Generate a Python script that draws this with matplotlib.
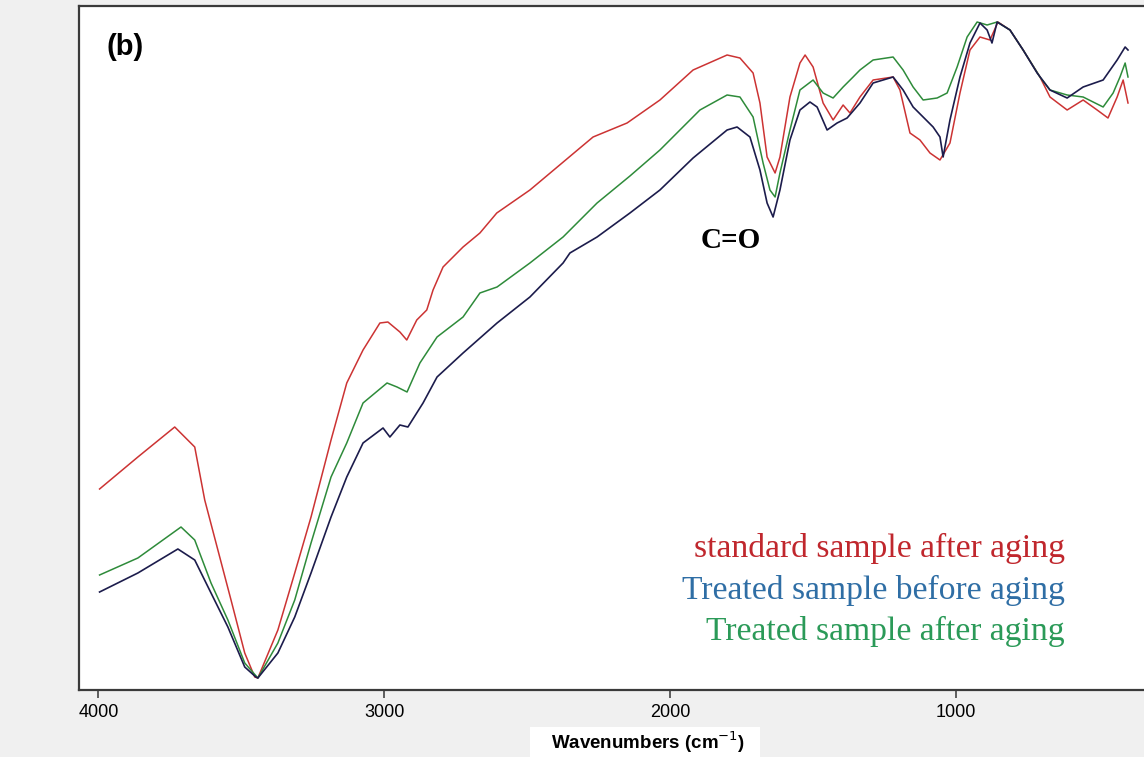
import matplotlib
matplotlib.use('Agg')
import matplotlib.pyplot as plt
from matplotlib.patches import Rectangle

# FTIR spectra (wavenumber in cm-1, transmittance in a.u.)
wn_std = [3996, 3862, 3733, 3663, 3628, 3582, 3536, 3488, 3453, 3442, 3372, 3313, 3256, 3186,
          3131, 3074, 3015, 2987, 2945, 2921, 2886, 2851, 2829, 2794, 2724, 2665, 2606, 2490,
          2315, 2269, 2150, 2035, 1919, 1800, 1755, 1709, 1685, 1660, 1632, 1615, 1580, 1545,
          1527, 1499, 1464, 1429, 1394, 1370, 1335, 1289, 1219, 1195, 1160, 1125, 1090, 1055,
          1020, 985, 950, 915, 880, 852, 810, 764, 705, 670, 610, 554, 505, 467, 435, 414, 397]
t_std = [20.1, 23.3, 26.3, 24.3, 19.0, 14.0, 9.0, 3.7, 1.3, 1.2, 6.0, 11.7, 17.3, 25.0,
         30.7, 34.0, 36.7, 36.8, 35.8, 35.0, 37.0, 38.0, 40.0, 42.3, 44.3, 45.7, 47.7, 50.0,
         54.2, 55.3, 56.7, 59.0, 62.0, 63.5, 63.2, 61.7, 58.7, 53.3, 51.7, 53.3, 59.3, 62.7,
         63.5, 62.3, 58.7, 57.0, 58.5, 57.7, 59.3, 61.0, 61.3, 60.0, 55.7, 55.0, 53.7, 53.0,
         54.7, 59.7, 64.0, 65.3, 65.0, 66.8, 66.0, 64.0, 61.3, 59.3, 58.0, 59.0, 58.0, 57.2,
         59.3, 61.0, 58.7]

wn_before = [3996, 3862, 3722, 3663, 3606, 3547, 3488, 3449, 3442, 3372, 3313, 3256, 3186, 3131,
             3074, 3004, 2980, 2945, 2917, 2864, 2815, 2724, 2605, 2490, 2374, 2350, 2255, 2140,
             2035, 1919, 1800, 1765, 1720, 1685, 1660, 1639, 1615, 1580, 1545, 1510, 1485, 1450,
             1415, 1380, 1335, 1289, 1219, 1184, 1149, 1114, 1079, 1055, 1044, 1020, 985, 950,
             915, 890, 873, 855, 810, 764, 715, 670, 610, 554, 484, 435, 407, 397]
t_before = [9.8, 11.7, 14.1, 13.0, 9.7, 6.3, 2.3, 1.3, 1.2, 3.7, 7.3, 11.7, 17.3, 21.3,
            24.7, 26.2, 25.3, 26.5, 26.3, 28.7, 31.3, 33.7, 36.7, 39.3, 42.7, 43.7, 45.3, 47.7,
            50.0, 53.2, 56.0, 56.3, 55.3, 52.0, 48.7, 47.3, 50.0, 55.0, 58.0, 58.8, 58.3, 56.0,
            56.7, 57.2, 58.7, 60.7, 61.3, 60.0, 58.3, 57.3, 56.3, 55.3, 53.3, 57.0, 61.3, 64.7,
            66.7, 66.0, 64.7, 66.8, 66.0, 64.0, 61.7, 60.0, 59.2, 60.3, 61.0, 63.0, 64.3, 64.0]

wn_after = [3996, 3862, 3711, 3663, 3606, 3547, 3488, 3442, 3372, 3313, 3256, 3186, 3131, 3074,
            2990, 2955, 2920, 2875, 2815, 2724, 2665, 2605, 2490, 2374, 2255, 2140, 2035, 1895,
            1800, 1755, 1709, 1674, 1650, 1632, 1615, 1580, 1545, 1499, 1464, 1429, 1394, 1359,
            1335, 1289, 1219, 1184, 1149, 1114, 1065, 1030, 995, 960, 925, 890, 855, 810, 764,
            705, 670, 610, 554, 484, 449, 425, 407, 397]
t_after = [11.5, 13.2, 16.3, 15.0, 10.7, 7.0, 2.7, 1.2, 4.7, 9.0, 14.7, 21.3, 24.7, 28.7,
           30.7, 30.3, 29.8, 32.7, 35.3, 37.3, 39.7, 40.3, 42.7, 45.3, 48.7, 51.4, 54.0, 58.0,
           59.5, 59.3, 57.3, 52.7, 50.0, 49.3, 51.7, 56.0, 60.0, 61.0, 59.7, 59.2, 60.3, 61.3,
           62.0, 63.0, 63.3, 62.0, 60.3, 59.0, 59.2, 59.7, 62.3, 65.3, 66.8, 66.5, 66.8, 66.0, 64.0,
           61.3, 60.0, 59.5, 59.3, 58.3, 59.7, 61.3, 62.7, 61.3]

labels = ['standard sample after aging', 'Treated sample before aging', 'Treated sample after aging']
line_colors = ['#cc3333', '#1c1c4c', '#2e8b3a']
text_colors = ['#c0272d', '#2f6ea5', '#2b9a58']
xticks = [4000, 3000, 2000, 1000]

fig = plt.figure(figsize=(11.44, 7.57), dpi=100, facecolor='#f0f0f0')
ax = fig.add_axes([79 / 1144, 1 - 690 / 757, 1 - 79 / 1144, (690 - 6) / 757])
ax.set_facecolor('white')

ax.plot(wn_std, t_std, color=line_colors[0], lw=1.1)
ax.plot(wn_after, t_after, color=line_colors[2], lw=1.1)
ax.plot(wn_before, t_before, color=line_colors[1], lw=1.2)

ax.set_xlim(4068, 341)
ax.set_ylim(0, 68.4)
ax.set_yticks([])
ax.set_xticks(xticks)
ax.set_xticklabels([str(t) for t in xticks], family='Liberation Sans', fontsize=13)
ax.tick_params(axis='x', direction='out', length=6, width=1.2, color='#444444', pad=4)
for side in ['left', 'top', 'bottom']:
    ax.spines[side].set_color('#3a3a3a')
    ax.spines[side].set_linewidth(1.6)
ax.spines['right'].set_visible(False)

# panel tag and peak annotation
fig.text(107 / 1144, 1 - 47 / 757, '(b)', fontsize=21, fontweight='bold',
         family='Liberation Sans', va='center', ha='left')
fig.text(731 / 1144, 1 - 241 / 757, 'C=O', fontsize=21, fontweight='bold', family='Liberation Serif',
         ha='center', va='center')

# coloured legend text
baselines = [557, 599, 640]
for lab, col, yb in zip(labels, text_colors, baselines):
    fig.text(1065 / 1144, 1 - yb / 757, lab, color=col, fontsize=24.2, family='Liberation Serif',
             ha='right', va='baseline')

# x-axis title sits in a white box
fig.patches.append(Rectangle((530 / 1144, 0), 230 / 1144, 30 / 757, transform=fig.transFigure,
                             facecolor='white', edgecolor='none'))
fig.text(648 / 1144, 1 - 742 / 757, 'Wavenumbers (cm$^{-1}$)', fontsize=13.5, fontweight='bold',
         family='Liberation Sans', ha='center', va='center')

fig.savefig('out.png', dpi=100, facecolor=fig.get_facecolor())
